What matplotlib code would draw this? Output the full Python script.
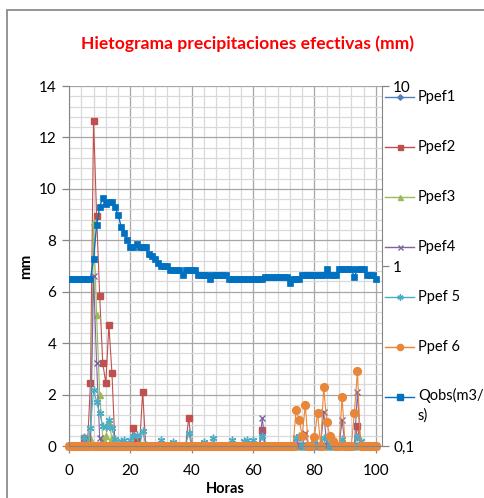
import numpy as np
import matplotlib
matplotlib.use("Agg")
import matplotlib.pyplot as plt
from matplotlib.lines import Line2D
from matplotlib.patches import Rectangle
from matplotlib.ticker import MultipleLocator, FixedLocator, FuncFormatter, NullLocator

plt.rcParams['font.family'] = ['Lato', 'DejaVu Sans']

horas = np.arange(0, 101)

# precipitaciones efectivas (mm): horas con valor distinto de cero
ppef1_h = []
ppef1_v = []
ppef2_h = [5, 7, 8, 9, 10, 11, 12, 13, 14, 21, 22, 24, 39, 63, 94]
ppef2_v = [0.3, 2.44, 12.65, 8.95, 5.83, 3.22, 2.44, 4.7, 2.83, 0.71, 0.2, 2.11, 1.1, 0.62, 0.78]
ppef3_h = [7, 8, 9, 10, 11, 12, 13, 14]
ppef3_v = [0.3, 8.72, 5.1, 1.98, 0.3, 0.4, 0.88, 0.3]
ppef4_h = [5, 8, 9, 10, 63, 74, 77, 83, 89, 94]
ppef4_v = [0.2, 6.6, 3.22, 0.3, 1.08, 0.3, 0.52, 1.33, 1.0, 2.11]
ppef5_h = [5, 7, 8, 9, 10, 11, 12, 13, 14, 15, 17, 18, 20, 21, 22, 24, 25, 30, 34, 39,
           44, 47, 53, 57, 58, 60, 63, 74, 75, 80, 83, 84, 89, 94, 95]
ppef5_v = [0.34, 0.69, 2.18, 1.72, 1.27, 0.78, 0.73, 1.01, 0.69, 0.26, 0.2, 0.23, 0.23, 0.4, 0.43, 0.6, 0.05, 0.23, 0.17, 0.52,
           0.17, 0.3, 0.23, 0.2, 0.23, 0.23, 0.4, 0.3, 0.4, 0.23, 0.3, 0.3, 0.26, 0.36, 0.2]
ppef6_h = [74, 75, 76, 77, 80, 81, 83, 84, 85, 86, 89, 93, 94]
ppef6_v = [1.4, 1.0, 0.4, 1.6, 0.35, 1.3, 2.28, 0.92, 0.4, 0.2, 1.9, 1.3, 2.92]

# caudal observado (m3/s), eje secundario logaritmico
qobs = [0.85, 0.85, 0.85, 0.85, 0.85, 0.85, 0.85, 0.85, 1.09, 1.70,
        2.13, 2.40, 2.20, 2.28, 2.28, 2.12, 1.93, 1.65, 1.52, 1.39,
        1.27, 1.27, 1.32, 1.27, 1.27, 1.27, 1.17, 1.13, 1.09, 1.04,
        1.00, 1.00, 1.00, 0.95, 0.95, 0.95, 0.95, 0.89, 0.95, 0.95,
        0.95, 0.95, 0.89, 0.89, 0.89, 0.89, 0.85, 0.89, 0.89, 0.89,
        0.89, 0.89, 0.85, 0.85, 0.85, 0.85, 0.85, 0.85, 0.85, 0.85,
        0.85, 0.85, 0.85, 0.85, 0.87, 0.87, 0.87, 0.87, 0.87, 0.87,
        0.87, 0.87, 0.80, 0.85, 0.85, 0.85, 0.89, 0.89, 0.89, 0.89,
        0.89, 0.89, 0.89, 0.89, 0.96, 0.89, 0.89, 0.89, 0.96, 0.96,
        0.96, 0.96, 0.96, 0.87, 0.96, 0.96, 0.96, 0.89, 0.89, 0.89,
        0.85]

nombres = ['Ppef1', 'Ppef2', 'Ppef3', 'Ppef4', 'Ppef 5', 'Ppef 6']
colores = ['#4F81BD', '#C0504D', '#9BBB59', '#8064A2', '#4BACC6', '#E8873A']
marcas = ['D', 's', '^', 'x', (6, 2, 0), 'o']
tam = [3.5, 4.5, 4.5, 4.5, 5.5, 5.6]


def serie(hs, vs):
    p = np.zeros(len(horas))
    for h, v in zip(hs, vs):
        p[h] = v
    return p


series = [serie(ppef1_h, ppef1_v), serie(ppef2_h, ppef2_v), serie(ppef3_h, ppef3_v),
          serie(ppef4_h, ppef4_v), serie(ppef5_h, ppef5_v), serie(ppef6_h, ppef6_v)]

fig = plt.figure(figsize=(4.84, 4.98), dpi=100)
W, H = 484.0, 498.0
ax = fig.add_axes([69 / W, 1 - 446 / H, (382 - 69) / W, (446 - 86) / H])

gris = '#868686'
lineas = []
for p, n, c, m, s in zip(series, nombres, colores, marcas, tam):
    l, = ax.plot(horas, p, color=c, lw=0.8, marker=m, markersize=s,
                 markeredgewidth=1.0, markerfacecolor=c, markeredgecolor=c,
                 clip_on=False, label=n)
    lineas.append(l)

ax.set_xlim(0, 102)
ax.set_ylim(0, 14)
ax.xaxis.set_major_locator(FixedLocator([0, 20, 40, 60, 80, 100]))
ax.xaxis.set_minor_locator(FixedLocator(np.arange(0, 101, 4)))
ax.yaxis.set_major_locator(MultipleLocator(2))
ax.yaxis.set_minor_locator(MultipleLocator(0.4))
ax.grid(which='major', color='#A6A6A6', lw=0.9)
ax.grid(which='minor', color='#D9D9D9', lw=0.9)
ax.set_axisbelow(True)
ax.tick_params(which='major', direction='out', length=5, width=0.9, color=gris,
               labelsize=11, pad=4)
ax.tick_params(which='minor', length=0)
ax.tick_params(axis='x', pad=8)
for lado in ['top', 'right']:
    ax.spines[lado].set_visible(False)
for lado in ['left', 'bottom']:
    ax.spines[lado].set_color(gris)

ax.set_ylabel('mm', fontsize=11, fontweight='bold', labelpad=4)
ax.set_xlabel('Horas', fontsize=10.5, fontweight='bold', labelpad=3)

ax2 = ax.twinx()
lq, = ax2.plot(horas, qobs, color='#0070C0', lw=1.0, marker='s', markersize=4.7,
               markeredgewidth=0.5, label='Qobs(m3/\ns)')
lineas.append(lq)
ax2.set_yscale('log')
ax2.set_ylim(0.1, 10)
ax2.yaxis.set_major_locator(FixedLocator([0.1, 1, 10]))
ax2.yaxis.set_minor_locator(NullLocator())
ax2.yaxis.set_major_formatter(FuncFormatter(lambda v, pos: ('%g' % v).replace('.', ',')))
ax2.tick_params(direction='out', length=5, width=0.9, color=gris, labelsize=11, pad=3)
for lado in ['top', 'left', 'bottom']:
    ax2.spines[lado].set_visible(False)
ax2.spines['right'].set_color(gris)

# leyenda a la derecha, una entrada por serie
ys = [97, 147, 197, 247, 297, 347, 397]
for l, y in zip(lineas, ys):
    yf = 1 - y / H
    h = Line2D([385 / W, 400 / W, 414 / W], [yf, yf, yf], transform=fig.transFigure,
               color=l.get_color(), lw=1.0, marker=l.get_marker(),
               markersize=l.get_markersize() * 0.8, markevery=[1],
               markerfacecolor=l.get_color(), markeredgecolor=l.get_color())
    fig.add_artist(h)
    if '\n' in l.get_label():
        fig.text(418 / W, 1 - (y - 9) / H, l.get_label(), fontsize=10.5, va='top',
                 ha='left', linespacing=1.45)
    else:
        fig.text(418 / W, yf, l.get_label(), fontsize=10.5, va='center', ha='left')

fig.text(248 / W, 1 - 44 / H, 'Hietograma precipitaciones efectivas (mm)',
         color='#FF0000', fontsize=12.6, fontweight='bold', ha='center', va='center')

fig.add_artist(Rectangle((7 / W, -0.05), 1.1, 1 - 10 / H + 0.05, transform=fig.transFigure,
                         fill=False, edgecolor='#8C8C8C', lw=1.3))

fig.savefig('out.png', dpi=100)
